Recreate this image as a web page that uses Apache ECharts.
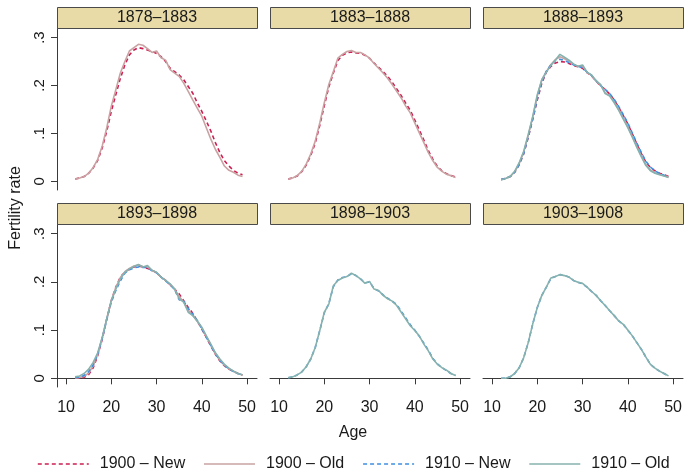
<!DOCTYPE html>
<html><head><meta charset="utf-8">
<script src="https://cdn.jsdelivr.net/npm/echarts@6/dist/echarts.min.js"></script>
<style>html,body{margin:0;padding:0;background:#fff}#c{width:690px;height:475px}</style>
</head><body><div id="c"></div>
<script>
// ---- data ----
const ages = [12,13,14,15,16,17,18,19,20,21,22,23,24,25,26,27,28,29,30,31,32,33,34,35,36,37,38,39,40,41,42,43,44,45,46,47,48,49];
const panelTitles = ['1878–1883','1883–1888','1888–1893','1893–1898','1898–1903','1903–1908'];
const seriesNames = ['1900 – New','1900 – Old','1910 – New','1910 – Old'];
const xTicks = [10,20,30,40,50];
const yTicks = [0,0.1,0.2,0.3];

// panel 1: 1878–1883
const p1_new1900 = [.005,.007,.010,.017,.028,.044,.070,.105,.146,.181,.215,.243,.264,.274,.279,.277,.274,.271,.267,.260,.250,.236,.229,.222,.212,.198,.184,.164,.146,.126,.105,.081,.060,.043,.032,.023,.017,.014];
const p1_old1900 = [.005,.007,.010,.017,.029,.046,.074,.112,.157,.191,.226,.250,.272,.279,.286,.284,.277,.269,.272,.258,.253,.233,.226,.219,.205,.188,.170,.153,.136,.112,.088,.067,.050,.032,.023,.019,.013,.010];
// panel 2: 1883–1888
const p2_new1900 = [.005,.007,.011,.020,.034,.054,.080,.117,.158,.197,.226,.252,.263,.268,.270,.268,.267,.263,.257,.247,.238,.229,.219,.207,.193,.179,.163,.148,.128,.107,.086,.064,.046,.031,.022,.016,.012,.009];
const p2_old1900 = [.005,.007,.012,.021,.036,.057,.084,.122,.164,.202,.229,.257,.265,.271,.273,.269,.269,.264,.257,.246,.236,.226,.215,.202,.188,.174,.157,.143,.122,.101,.081,.060,.043,.029,.021,.015,.012,.008];
// panel 3: 1888–1893
const p3_new1900 = [.004,.006,.010,.019,.035,.058,.092,.130,.170,.205,.228,.240,.247,.250,.249,.246,.242,.239,.236,.227,.220,.209,.199,.192,.182,.170,.154,.137,.120,.099,.078,.058,.040,.029,.022,.017,.014,.010];
const p3_old1900 = [.004,.006,.010,.020,.037,.061,.096,.134,.178,.212,.229,.244,.254,.260,.256,.251,.244,.240,.241,.227,.221,.209,.201,.185,.179,.166,.150,.132,.114,.094,.073,.053,.035,.024,.018,.015,.012,.009];
const p3_new1910 = [.004,.006,.010,.019,.035,.058,.093,.131,.172,.207,.230,.243,.252,.255,.252,.248,.243,.240,.237,.228,.221,.210,.200,.192,.183,.171,.156,.139,.122,.101,.080,.060,.042,.030,.022,.017,.013,.009];
const p3_old1910 = [.003,.006,.010,.021,.039,.063,.098,.136,.181,.212,.228,.242,.253,.265,.259,.253,.245,.240,.243,.228,.222,.210,.202,.183,.178,.164,.148,.130,.112,.092,.071,.051,.033,.022,.017,.014,.011,.008];
// panel 4: 1893–1898
const p4_new1900 = [.000,.001,.002,.008,.022,.047,.081,.123,.161,.189,.210,.220,.227,.231,.233,.231,.228,.224,.219,.210,.203,.194,.185,.175,.161,.147,.135,.119,.102,.085,.067,.050,.036,.026,.019,.014,.010,.007];
const p4_old1900 = [.000,.002,.004,.011,.026,.050,.084,.124,.162,.188,.209,.221,.228,.233,.235,.232,.231,.224,.219,.210,.203,.195,.185,.170,.158,.141,.131,.118,.104,.087,.069,.052,.038,.027,.020,.015,.010,.007];
const p4_new1910 = [.001,.003,.006,.014,.028,.050,.083,.122,.158,.182,.202,.218,.225,.229,.231,.230,.230,.223,.219,.210,.202,.194,.184,.163,.160,.145,.133,.120,.103,.085,.068,.051,.038,.027,.020,.014,.010,.007];
const p4_old1910 = [.003,.005,.010,.019,.033,.053,.085,.123,.161,.185,.206,.220,.227,.232,.236,.231,.234,.224,.220,.210,.203,.196,.185,.165,.158,.137,.130,.119,.106,.088,.071,.053,.040,.029,.021,.015,.010,.007];
// panel 5: 1898–1903
const p5_new1910 = [.001,.003,.007,.013,.024,.040,.064,.099,.136,.155,.190,.204,.209,.211,.217,.213,.206,.198,.200,.186,.181,.173,.166,.160,.153,.139,.125,.111,.100,.087,.073,.058,.041,.030,.022,.016,.010,.006];
const p5_old1910 = [.001,.003,.007,.013,.024,.040,.064,.099,.137,.154,.192,.203,.208,.211,.218,.213,.206,.197,.201,.185,.182,.172,.165,.160,.151,.137,.123,.109,.099,.088,.071,.057,.040,.029,.022,.017,.010,.006];
// panel 6: 1903–1908
const p6_new1910 = [.000,.000,.003,.010,.022,.043,.074,.113,.147,.172,.189,.207,.211,.215,.213,.210,.203,.199,.196,.189,.180,.172,.161,.151,.140,.130,.119,.112,.100,.088,.074,.060,.044,.029,.021,.015,.010,.005];
const p6_old1910 = [.000,.000,.003,.010,.022,.043,.074,.113,.147,.172,.189,.208,.211,.215,.213,.210,.203,.199,.197,.189,.180,.172,.161,.151,.140,.130,.119,.112,.100,.088,.074,.060,.044,.029,.021,.015,.010,.005];

// ---- layout / style ----
const FONT = 'Liberation Sans, Arial, Helvetica, sans-serif';
const colLeft = [57, 270, 483];
const rowTop = [28, 224];
const rowH = [162, 163];
const stripH = 21;
const W = 200;
const styles = {
  '1900 – New': {color:'#cc1f52', type:[4,3]},
  '1900 – Old': {color:'#c9a3a3', type:'solid'},
  '1910 – New': {color:'#3f8ee0', type:[4,3]},
  '1910 – Old': {color:'#86b2ae', type:'solid'}
};
const panelData = [
  [['1900 – New', p1_new1900], ['1900 – Old', p1_old1900]],
  [['1900 – New', p2_new1900], ['1900 – Old', p2_old1900]],
  [['1900 – New', p3_new1900], ['1900 – Old', p3_old1900], ['1910 – New', p3_new1910], ['1910 – Old', p3_old1910]],
  [['1900 – New', p4_new1900], ['1900 – Old', p4_old1900], ['1910 – New', p4_new1910], ['1910 – Old', p4_old1910]],
  [['1910 – New', p5_new1910], ['1910 – Old', p5_old1910]],
  [['1910 – New', p6_new1910], ['1910 – Old', p6_old1910]]
];

const grids = [], xAxes = [], yAxes = [], series = [], graphics = [];
const axisColor = '#3a3a3a';
for (let i = 0; i < 6; i++) {
  const r = Math.floor(i / 3), c = i % 3;
  grids.push({left: colLeft[c], top: rowTop[r], width: W, height: rowH[r], containLabel: false});
  const bottom = r === 1, leftCol = c === 0;
  xAxes.push({
    type: 'value', gridIndex: i, min: 8, max: 52.2,
    axisLine: {show: bottom, lineStyle: {color: axisColor, width: 1}},
    axisTick: {show: bottom, customValues: xTicks, length: 6, lineStyle: {color: axisColor}},
    axisLabel: {show: bottom, customValues: xTicks, margin: 13, fontSize: 16, color: '#1a1a1a', fontFamily: FONT},
    splitLine: {show: false}
  });
  yAxes.push({
    type: 'value', gridIndex: i, min: -0.018, max: 0.32,
    axisLine: {show: leftCol, lineStyle: {color: axisColor, width: 1}},
    axisTick: {show: leftCol, customValues: yTicks, length: 6, lineStyle: {color: axisColor}},
    axisLabel: {show: leftCol, customValues: yTicks, rotate: 90, margin: 10, fontSize: 15, color: '#1a1a1a', fontFamily: FONT,
      formatter: v => { const s = (Math.round(v * 10) / 10).toString(); return s === '0' ? '0' : s.replace(/^0\./, '.'); }},
    splitLine: {show: false}
  });
  panelData[i].forEach(([name, vals]) => {
    const st = styles[name];
    series.push({
      type: 'line', name: name, xAxisIndex: i, yAxisIndex: i,
      data: ages.map((a, k) => [a, vals[k]]),
      symbol: 'none', showSymbol: false, color: st.color,
      lineStyle: {color: st.color, width: 1.6, type: st.type},
      z: 2
    });
  });
  // header strip
  graphics.push({type: 'rect', shape: {x: colLeft[c] + 0.5, y: rowTop[r] - stripH + 0.5, width: W, height: stripH},
    style: {fill: '#e8dba8', stroke: '#4a4a4a', lineWidth: 1}, z: 10});
  graphics.push({type: 'text', x: colLeft[c] + W / 2, y: rowTop[r] - stripH / 2 + 0.5,
    style: {text: panelTitles[i], fill: '#1a1a1a', font: '16px ' + FONT, textAlign: 'center', textVerticalAlign: 'middle'}, z: 11});
}
graphics.push({type: 'text', x: 16, y: 208, rotation: Math.PI / 2,
  style: {text: 'Fertility rate', fill: '#1a1a1a', font: '16px ' + FONT, textAlign: 'center', textVerticalAlign: 'middle'}});
graphics.push({type: 'text', x: 353, y: 433,
  style: {text: 'Age', fill: '#1a1a1a', font: '16px ' + FONT, textAlign: 'center', textVerticalAlign: 'middle'}});

const chart = echarts.init(document.getElementById('c'), null, {renderer: 'canvas'});
chart.setOption({
  animation: false,
  backgroundColor: '#ffffff',
  grid: grids, xAxis: xAxes, yAxis: yAxes, series: series,
  legend: {
    data: seriesNames, left: 37, top: 456, padding: 0, itemWidth: 51, itemHeight: 14, itemGap: 18,
    itemStyle: {opacity: 0},
    lineStyle: {width: 1.6},
    textStyle: {fontSize: 16, color: '#1a1a1a', fontFamily: FONT, padding: [0, 0, 0, 6]},
    selectedMode: false
  },
  graphic: graphics
});
</script></body></html>
